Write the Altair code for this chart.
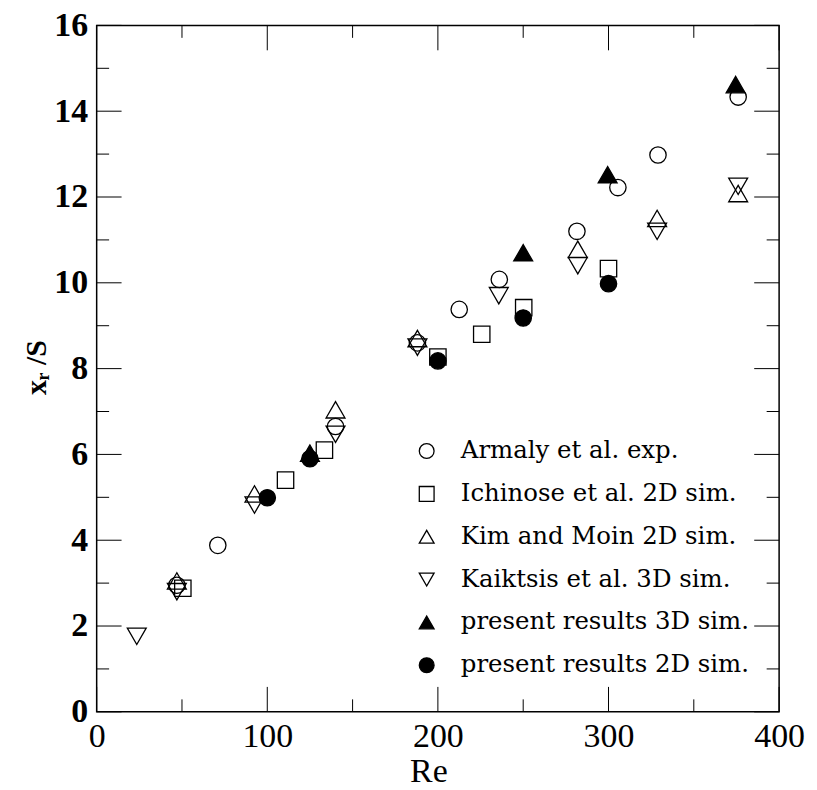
import altair as alt
import pandas as pd

# ---------------- data ----------------
series_names = [
    "Armaly et al. exp.",
    "Ichinose et al. 2D sim.",
    "Kim and Moin 2D sim.",
    "Kaiktsis et al. 3D sim.",
    "present results 3D sim.",
    "present results 2D sim.",
]

armaly_re = [47, 71, 140, 188, 212.5, 236, 281.5, 305.5, 329, 376]
armaly_xs = [2.95, 3.88, 6.65, 8.6, 9.38, 10.08, 11.2, 12.22, 12.98, 14.33]

ichinose_re = [50.5, 110.7, 133.5, 200, 225.7, 250.3, 300]
ichinose_xs = [2.88, 5.4, 6.1, 8.27, 8.8, 9.42, 10.33]

kim_re = [47, 92.5, 140, 188, 282, 328.5, 376]
kim_xs = [3.05, 5.08, 7.04, 8.7, 10.78, 11.5, 12.08]

kaik_re = [23.5, 47, 92.5, 140, 188, 235.7, 282, 328.5, 376]
kaik_xs = [1.76, 2.8, 4.82, 6.47, 8.5, 9.7, 10.4, 11.2, 12.25]

p3d_re = [125, 250, 299.5, 374.5]
p3d_xs = [6.03, 10.7, 12.52, 14.62]

p2d_re = [100, 125, 200, 250, 300]
p2d_xs = [4.99, 5.9, 8.18, 9.18, 9.98]

x_major = [0, 100, 200, 300, 400]
x_minor = [50, 150, 250, 350]
y_major = [0, 2, 4, 6, 8, 10, 12, 14, 16]
y_minor = [1, 3, 5, 7, 9, 11, 13, 15]

shapes = ["circle", "square", "triangle-up", "triangle-down", "triangle-up", "circle"]
fills = ["transparent", "transparent", "transparent", "transparent", "black", "black"]
strokes = ["black"] * 6

# ---------------- table ----------------
rows = []
for name, res, xs in zip(
    series_names,
    [armaly_re, ichinose_re, kim_re, kaik_re, p3d_re, p2d_re],
    [armaly_xs, ichinose_xs, kim_xs, kaik_xs, p3d_xs, p2d_xs],
):
    for r, v in zip(res, xs):
        rows.append({"series": name, "Re": r, "xr": v})
df = pd.DataFrame(rows)
tri_names = [series_names[2], series_names[3], series_names[4]]

W, H = 685, 689
MAJ, MIN = 25, 12.5

xscale = alt.Scale(domain=[0, 400], nice=False, zero=False)
yscale = alt.Scale(domain=[0, 16], nice=False, zero=False)

xaxis = alt.Axis(
    values=x_major,
    ticks=False,
    grid=False,
    domain=False,
    labelFont="Liberation Serif",
    labelFontSize=34,
    labelColor="black",
    labelPadding=8,
    labelFlush=False,
    title="Re",
    titleFont="Liberation Serif",
    titleFontSize=34,
    titleFontWeight="normal",
    titleColor="black",
    titleX=333,
    titleY=60,
    titleBaseline="middle",
    titleAlign="center",
)
yaxis = alt.Axis(
    values=y_major,
    ticks=False,
    grid=False,
    domain=False,
    labelFont="Liberation Serif",
    labelFontWeight="bold",
    labelFontSize=34,
    labelColor="black",
    labelPadding=9,
    labelFlush=False,
    title="xᵣ /S",
    titleFont="Liberation Serif",
    titleFontSize=30,
    titleFontWeight="bold",
    titleColor="black",
    titleAngle=270,
    titleX=-60,
    titleY=343,
    titleAlign="center",
    titleBaseline="middle",
)

legend = alt.Legend(
    title=None,
    orient="none",
    legendX=319,
    legendY=415,
    padding=0,
    labelFont="DejaVu Serif",
    labelFontSize=24.5,
    labelColor="black",
    labelOffset=22,
    symbolSize=220,
    symbolStrokeWidth=1.3,
    rowPadding=18,
    labelLimit=400,
)

shape_scale = alt.Scale(domain=series_names, range=shapes)
fill_scale = alt.Scale(domain=series_names, range=fills)
stroke_scale = alt.Scale(domain=series_names, range=strokes)


def point_layer(data, size):
    return alt.Chart(data).mark_point(
        filled=True, strokeWidth=1.3, opacity=1, size=size
    ).encode(
        x=alt.X("Re:Q", scale=xscale, axis=xaxis),
        y=alt.Y("xr:Q", scale=yscale, axis=yaxis),
        shape=alt.Shape("series:N", scale=shape_scale, legend=legend),
        fill=alt.Fill("series:N", scale=fill_scale, legend=legend),
        stroke=alt.Stroke("series:N", scale=stroke_scale, legend=legend),
    )


open_round = point_layer(df[df["series"].isin(series_names[:2])], 270)
triangles = point_layer(df[df["series"].isin(tri_names)], 360)
filled_round = point_layer(df[df["series"] == series_names[5]], 270)

xmaj = pd.DataFrame({"Re": x_major})
xmin = pd.DataFrame({"Re": x_minor})
ymaj = pd.DataFrame({"xr": y_major})
ymin = pd.DataFrame({"xr": y_minor})


def xticks(data, length):
    bottom = alt.Chart(data).mark_rule(color="black", strokeWidth=1).encode(
        x=alt.X("Re:Q", scale=xscale, axis=xaxis),
        y=alt.value(H),
        y2=alt.value(H - length),
    )
    top = alt.Chart(data).mark_rule(color="black", strokeWidth=1).encode(
        x=alt.X("Re:Q", scale=xscale, axis=xaxis),
        y=alt.value(0),
        y2=alt.value(length),
    )
    return [bottom, top]


def yticks(data, length):
    left = alt.Chart(data).mark_rule(color="black", strokeWidth=1).encode(
        y=alt.Y("xr:Q", scale=yscale, axis=yaxis),
        x=alt.value(0),
        x2=alt.value(length),
    )
    right = alt.Chart(data).mark_rule(color="black", strokeWidth=1).encode(
        y=alt.Y("xr:Q", scale=yscale, axis=yaxis),
        x=alt.value(W),
        x2=alt.value(W - length),
    )
    return [left, right]


layers = (
    xticks(xmaj, MAJ) + xticks(xmin, MIN) + yticks(ymaj, MAJ) + yticks(ymin, MIN)
    + [open_round, triangles, filled_round]
)

chart = alt.layer(*layers).properties(
    width=W,
    height=H,
    autosize=alt.AutoSizeParams(type="none"),
    padding={"left": 89, "top": 16, "right": 30, "bottom": 76},
    background="white",
).configure_view(
    stroke="black", strokeWidth=1.5
)

chart.save("out.html", embed_options={"renderer": "svg", "actions": False})
